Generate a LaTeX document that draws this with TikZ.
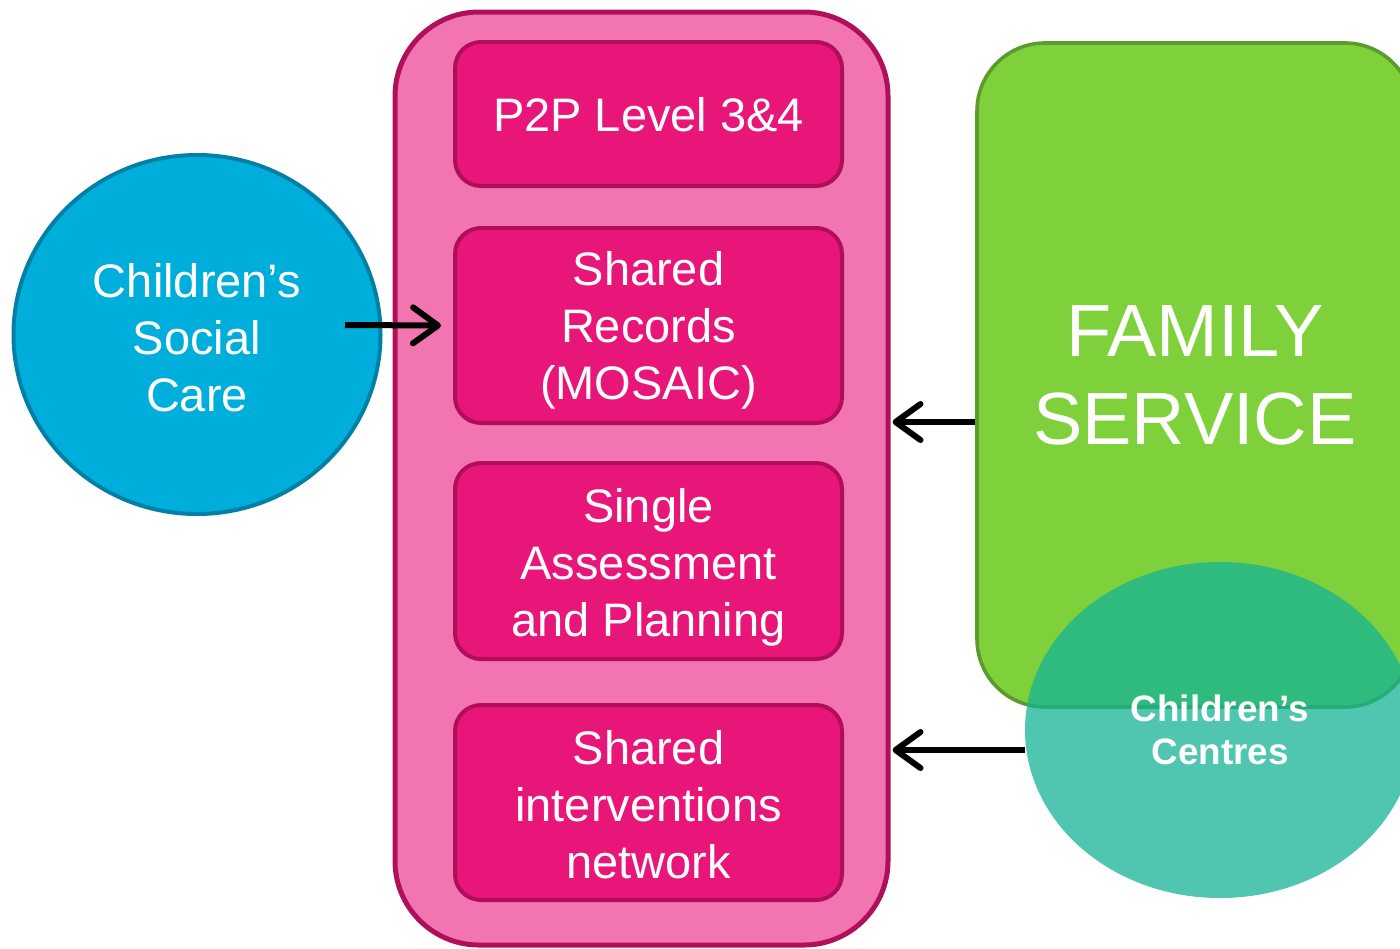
\documentclass[tikz,border=0pt]{standalone}
\usepackage{fontspec}
\setmainfont{Liberation Sans}
\usetikzlibrary{shapes.geometric,arrows.meta}
\definecolor{contfill}{HTML}{F274B0}
\definecolor{contline}{HTML}{B0105A}
\definecolor{boxfill}{HTML}{E81678}
\definecolor{boxline}{HTML}{B00E5A}
\definecolor{cscfill}{HTML}{00AEDB}
\definecolor{cscline}{HTML}{0080A5}
\definecolor{famfill}{HTML}{7ED13A}
\definecolor{famline}{HTML}{5C9A2C}
\definecolor{ccfill}{HTML}{15B395}
\tikzset{
  boxtxt/.style={font=\fontsize{23.5}{28.5}\selectfont, text=white, align=center, inner sep=0pt},
  innerbox/.style={draw=boxline, line width=2pt, fill=boxfill, rounded corners=13pt,
     minimum width=193.5pt, inner sep=0pt},
  arr/.style={line width=3pt, -{Straight Barb[length=12.5pt,width=18pt,line cap=round,line join=round]}}
}
\begin{document}
\begin{tikzpicture}[x=0.5pt,y=-0.5pt]
\useasboundingbox (0,0) rectangle (1400,948);
\clip (0,0) rectangle (1400,948);
% container
\node[draw=contline, line width=2.5pt, fill=contfill, rounded corners=42pt,
  minimum width=246.5pt, minimum height=466.5pt, inner sep=0pt] (cont) at (641.5,478.5) {};
\node[innerbox, minimum height=72pt] (b1) at (648.5,114) {};
\node[innerbox, minimum height=97.5pt] (b2) at (648.5,325.5) {};
\node[innerbox, minimum height=98pt] (b3) at (648.5,561) {};
\node[innerbox, minimum height=97.5pt] (b4) at (648.5,802.5) {};
\node[boxtxt] (b1t) at ([yshift=-0.5pt]b1.center) {P2P Level 3\&4};
\node[boxtxt] (b2t) at ([yshift=-2.5pt]b2.center) {Shared\\Records\\(MOSAIC)};
\node[boxtxt] (b3t) at ([yshift=-3pt]b3.center) {Single\\Assessment\\and Planning};
\node[boxtxt] (b4t) at ([yshift=-1pt]b4.center) {Shared\\interventions\\network};
% children's social care
\node[ellipse, draw=cscline, line width=2pt, fill=cscfill, minimum width=183.5pt,
  minimum height=179.5pt, inner sep=0pt] (csc) at (197,334.5) {};
\node[boxtxt] (csct) at ([yshift=-1.5pt]csc.center) {Children’s\\Social\\Care};
% family service
\node[draw=famline, line width=1.8pt, fill=famfill, rounded corners=34pt,
  minimum width=218pt, minimum height=332pt, inner sep=0pt, text=white, align=center,
  font=\fontsize{37}{44}\selectfont] (fam) at (1195,375) {FAMILY\\SERVICE};
% arrows
\coordinate (a1s) at (345,325);
\coordinate (y2) at (0,422);
\coordinate (y3) at (0,750);
\draw[arr] (a1s) -- ([xshift=-6pt]b2.west);
\draw[arr] (fam.west |- y2) -- ([xshift=1pt]cont.east |- y2);
% children's centres
\node[ellipse, fill=ccfill, fill opacity=0.75, text opacity=1, minimum width=195pt,
  minimum height=168pt, inner sep=0pt, text=white, align=center,
  font=\fontsize{18.4}{21.5}\selectfont\bfseries] (cc) at (1220,730) {Children’s\\Centres};
\draw[arr] (cc.west |- y3) -- ([xshift=1pt]cont.east |- y3);
\end{tikzpicture}
\end{document}
